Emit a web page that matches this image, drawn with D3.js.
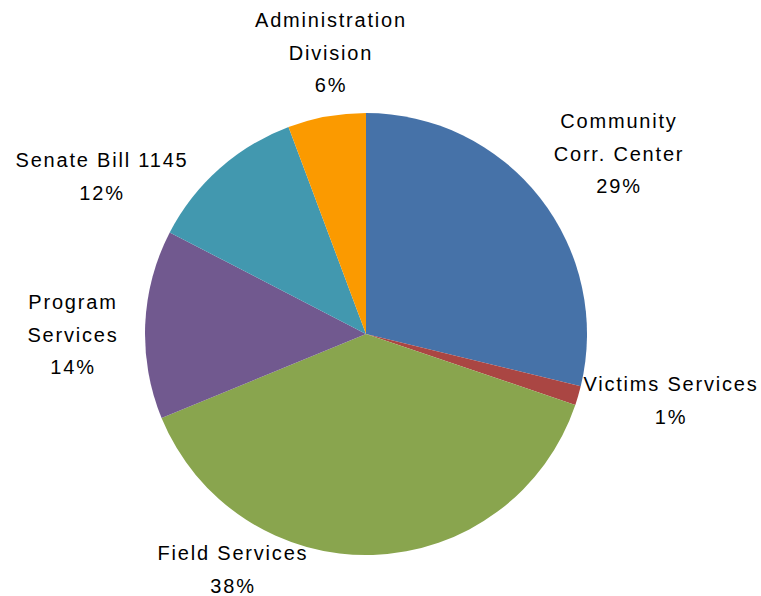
<!DOCTYPE html>
<html>
<head>
<meta charset="utf-8">
<script src="https://cdn.jsdelivr.net/npm/d3@7"></script>
<style>
  html, body { margin: 0; padding: 0; background: #ffffff; }
  svg { display: block; }
  text { font-family: "Liberation Sans", Arial, sans-serif; font-size: 20px; fill: #000; letter-spacing: 1.8px; }
</style>
</head>
<body>
<svg id="chart" width="761" height="596"></svg>
<script>
const categories = ["Community Corr. Center", "Victims Services", "Field Services", "Program Services", "Senate Bill 1145", "Administration Division"];
const values = [28.8, 1.4, 38.6, 13.8, 11.7, 5.7];
const percentLabels = ["29%", "1%", "38%", "14%", "12%", "6%"];
const labelLines = [["Community", "Corr. Center"], ["Victims Services"], ["Field Services"], ["Program", "Services"], ["Senate Bill 1145"], ["Administration", "Division"]];
const colors = ["#4672a8", "#aa4643", "#89a54e", "#71598f", "#4298af", "#fb9a00"];

const svg = d3.select("#chart");
const cx = 366, cy = 334, r = 221;
const g = svg.append("g").attr("transform", `translate(${cx},${cy})`);

const pie = d3.pie().sort(null).value(d => d)(values);
const arc = d3.arc().innerRadius(0).outerRadius(r);

g.selectAll("path").data(pie).enter().append("path")
  .attr("d", arc)
  .attr("fill", (d, i) => colors[i]);

const labelPos = [
  [619, 121], [671, 384], [233, 553], [73, 302], [102, 160], [331, 20]
];
const lineH = 32.5;
labelPos.forEach((p, i) => {
  const lines = labelLines[i].concat([percentLabels[i]]);
  const t = svg.append("text").attr("text-anchor", "middle");
  lines.forEach((s, k) => {
    t.append("tspan").attr("x", p[0]).attr("y", p[1] + k * lineH + 7).text(s);
  });
});
</script>
</body>
</html>
